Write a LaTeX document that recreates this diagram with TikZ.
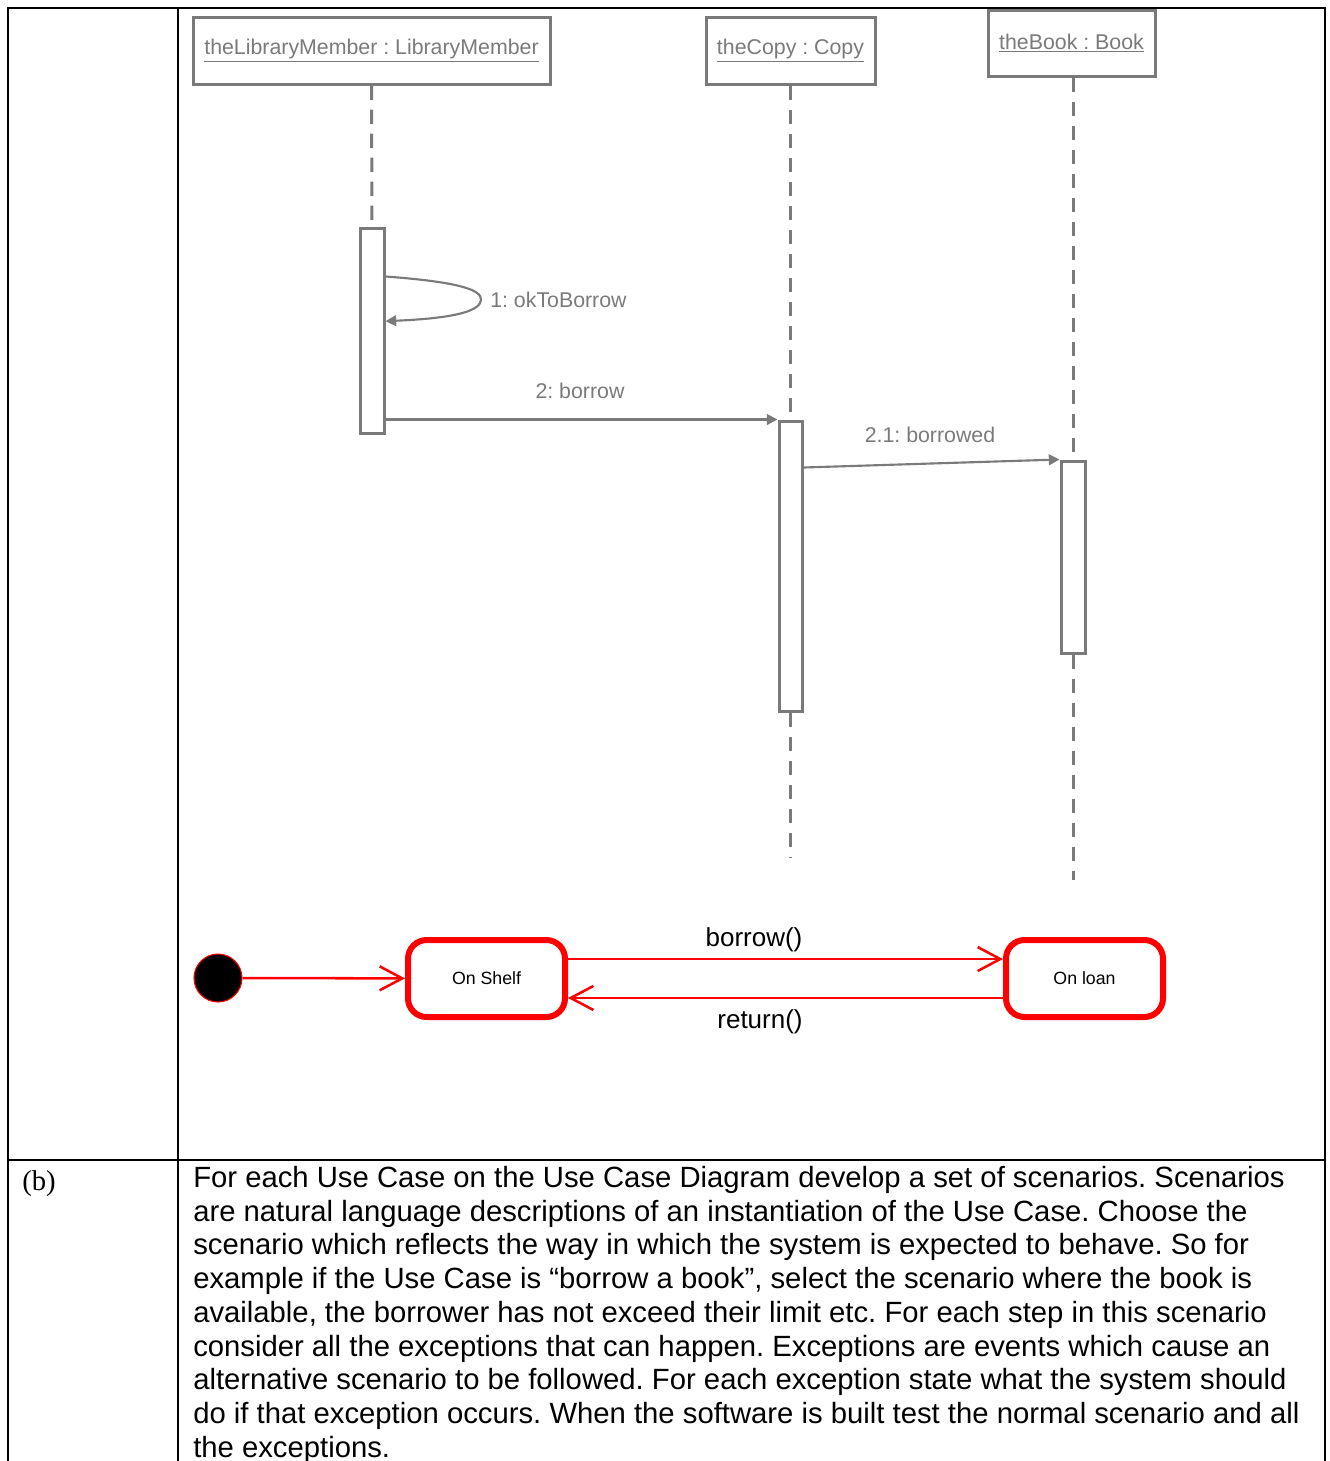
\documentclass[tikz,border=0pt]{standalone}
\usepackage{fontspec}
\setmainfont{Liberation Sans}
\newfontfamily\serifb{Liberation Serif}
\usetikzlibrary{arrows.meta}
\definecolor{seqgray}{HTML}{7A7A7A}
\definecolor{stred}{HTML}{FF0000}
\frenchspacing
\begin{document}
\begin{tikzpicture}[x=0.75pt,y=-0.75pt,
  obj/.style={draw=seqgray, line width=2.25pt, text=seqgray, inner sep=0pt,
    font=\fontsize{16}{19}\selectfont},
  act/.style={draw=seqgray, line width=2.25pt, fill=white, minimum width=18pt, inner sep=0pt},
  life/.style={draw=seqgray, line width=2.25pt, dash pattern=on 11pt off 7pt},
  msg/.style={draw=seqgray, line width=1.6pt, -{Triangle[length=8pt,width=8pt]}},
  msglabel/.style={text=seqgray, font=\fontsize{16}{19}\selectfont, inner sep=0pt},
  state/.style={draw=stred, line width=4.5pt, rounded corners=14pt, minimum width=117.75pt,
    minimum height=57.75pt, font=\fontsize{13.3}{16}\selectfont, inner sep=0pt},
  trans/.style={draw=stred, line width=1.9pt, -{Straight Barb[length=17pt,width=18pt,line width=1.9pt]}},
  tlabel/.style={font=\fontsize{19.5}{23}\selectfont, inner sep=0pt},
  frame/.style={line width=1.6pt, black}]
\useasboundingbox (0,0) rectangle (1329,1461);

% table frame
\draw[frame, line width=2.2pt] (7,8) -- (1326,8);
\draw[frame] (8,8) -- (8,1461);
\draw[frame] (178,8) -- (178,1461);
\draw[frame] (1325,8) -- (1325,1461);
\draw[frame] (8,1160) -- (1325,1160);

% objects
\node[obj, minimum width=267.75pt, minimum height=50.25pt] (o1) at (371.5,50.5)
  {\underline{theLibraryMember : LibraryMember}};
\node[obj, minimum width=126.75pt, minimum height=50.25pt] (o2) at (790.5,50.5)
  {\underline{theCopy : Copy}};
\node[obj, minimum width=125.25pt, minimum height=49.5pt] (o3) at (1071.5,43)
  {\underline{theBook : Book}};

% activations
\node[act, minimum height=153.75pt] (a1) at (372,330.5) {};
\node[act, minimum width=17.25pt, minimum height=217.5pt] (a2) at (790.5,566) {};
\node[act, minimum height=144pt] (a3) at (1073,557) {};
\coordinate (e2) at (790.5,858);
\coordinate (e3) at (1073,880);

% lifelines
\draw[life] (o1.south) -- (a1.north);
\draw[life] (o2.south) -- (a2.north);
\draw[life] (a2.south) -- (e2);
\draw[life] (o3.south -| a3.north) -- (a3.north);
\draw[life] (a3.south) -- (e3);

% messages
\draw[msg] ([yshift=-37.5pt]a1.north east) .. controls (460,282) and (482,290) .. (481,300)
  .. controls (480,310) and (460,318) .. ([yshift=-71pt]a1.north east);
\node[msglabel, anchor=west] (l1) at (490,300) {1: okToBorrow};
\draw[msg] (a1.east |- a2.north west) -- (a2.north west);
\node[msglabel] (l2) at (580,391) {2: borrow};
\draw[msg] ([yshift=-36pt]a2.north east) -- (a3.north west);
\node[msglabel] (l3) at (930,435) {2.1: borrowed};

% state diagram
\node[circle, fill=black, draw=stred, line width=0.8pt, minimum size=36pt, inner sep=0pt] (init) at (218,978) {};
\node[state] (shelf) at (486.5,978.5) {On Shelf};
\node[state] (loan) at (1084.5,978.5) {On loan};
\draw[trans] (init) -- (shelf);
\draw[trans] ([yshift=14.6pt]shelf.east) -- ([yshift=14.6pt]loan.west);
\draw[trans] ([yshift=-14.6pt]loan.west) -- ([yshift=-14.6pt]shelf.east);
\node[tlabel] (lb) at (754,940) {borrow()};
\node[tlabel] (lr) at (760,1022) {return()};

% table text
\node[anchor=base west, inner sep=0pt, font=\serifb\fontsize{21.5}{25}\selectfont] (b) at (22,1190) {(b)};
\node[anchor=north west, align=left, inner sep=0pt, font=\fontsize{21.95}{25.3}\selectfont] (txt) at (193,1166)
{For each Use Case on the Use Case Diagram develop a set of scenarios. Scenarios\\
are natural language descriptions of an instantiation of the Use Case. Choose the\\
scenario which reflects the way in which the system is expected to behave. So for\\
example if the Use Case is “borrow a book”, select the scenario where the book is\\
available, the borrower has not exceed their limit etc. For each step in this scenario\\
consider all the exceptions that can happen. Exceptions are events which cause an\\
alternative scenario to be followed. For each exception state what the system should\\
do if that exception occurs. When the software is built test the normal scenario and all\\
the exceptions.};
\end{tikzpicture}
\end{document}
